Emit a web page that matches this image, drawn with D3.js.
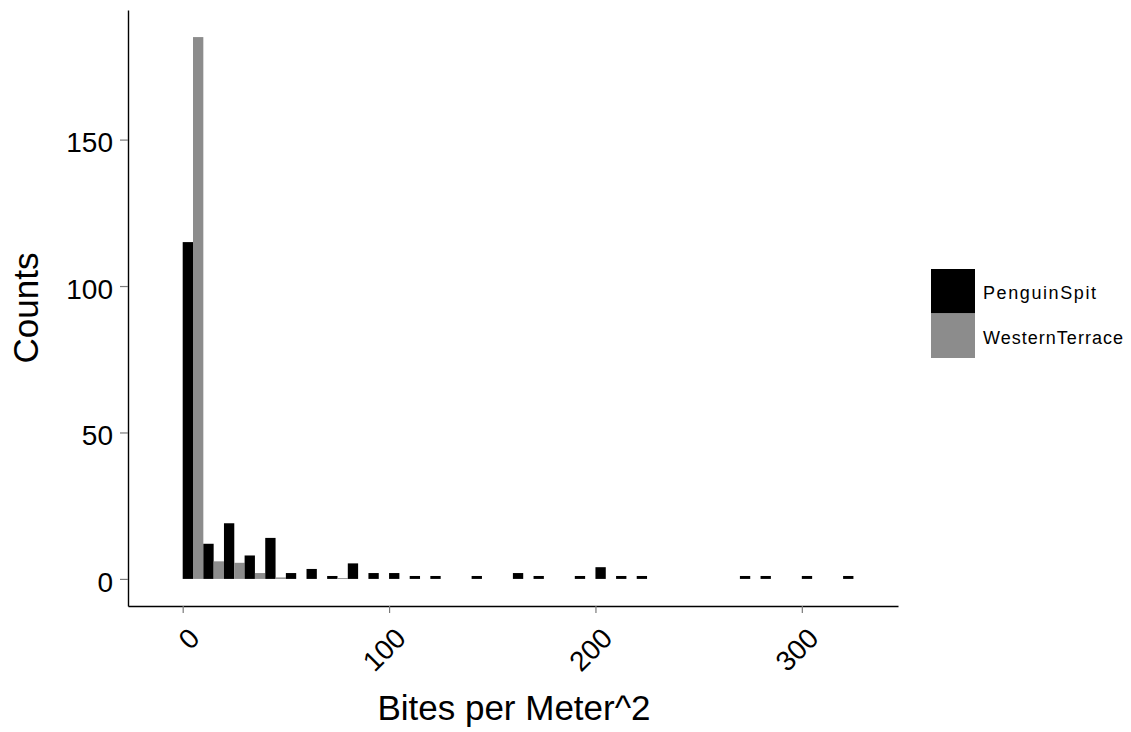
<!DOCTYPE html>
<html>
<head>
<meta charset="utf-8">
<script src="https://cdn.jsdelivr.net/npm/d3@7"></script>
<style>
body { margin: 0; background: #fff; }
text { font-family: "Liberation Sans", Arial, sans-serif; fill: #000; }
</style>
</head>
<body>
<script>
(function(){

//bin left edges (binwidth 10, each bin split in two for the dodge)
var binStarts = [0, 10, 20, 30, 40, 50, 60, 70, 80, 90, 100, 110, 120, 130, 140, 150, 160,
                 170, 180, 190, 200, 210, 220, 230, 240, 250, 260, 270, 280, 290, 300, 310, 320];
//counts
var penguinSpit = [115, 12, 19, 8, 14, 2, 3.4, 1, 5.3, 2, 2, 1, 1, 0, 1, 0, 2,
                   1, 0, 1, 4, 1, 1, 0, 0, 0, 0, 1, 1, 0, 1, 0, 1];
var westernTerrace = [185, 6, 5.5, 2, 0.5, 0, 0, 0.3, 0, 0, 0, 0, 0, 0, 0, 0, 0,
                      0, 0, 0, 0, 0, 0, 0, 0, 0, 0, 0, 0, 0, 0, 0, 0];
var seriesNames = ["PenguinSpit", "WesternTerrace"];
var seriesColors = ["#000000", "#8c8c8c"];
var xTicks = [0, 100, 200, 300];
var yTicks = [0, 50, 100, 150];

var width = 1131, height = 732;

//panel edges in pixels
var left = 128, right = 898, top = 10, bottom = 606;

var svg = d3.select("body")
    .append("svg")
    .attr("width", width)
    .attr("height", height);

svg.append("rect")
    .attr("width", width)
    .attr("height", height)
    .attr("fill", "#fff");

//scales with ggplot-style padding
var x = d3.scaleLinear()
    .domain([-26.5, 346.6])
    .range([left, right]);

var y = d3.scaleLinear()
    .domain([-9.25, 194.25])
    .range([bottom, top]);

//build one row per half-bar
var bars = [];
binStarts.forEach(function(b, i){
    bars.push({x0: b, x1: b + 5, v: penguinSpit[i], s: 0});
    bars.push({x0: b + 5, x1: b + 10, v: westernTerrace[i], s: 1});
});

svg.selectAll(".bar")
    .data(bars.filter(function(d){ return d.v > 0; }))
    .enter()
    .append("rect")
    .attr("class", "bar")
    .attr("x", function(d){ return x(d.x0); })
    .attr("width", function(d){ return x(d.x1) - x(d.x0); })
    .attr("y", function(d){ return y(d.v); })
    .attr("height", function(d){ return y(0) - y(d.v); })
    .attr("fill", function(d){ return seriesColors[d.s]; });

//y axis
var yAxis = svg.append("g")
    .attr("transform", "translate(" + left + ",0)")
    .call(d3.axisLeft(y).tickValues(yTicks).tickSize(8).tickSizeOuter(0).tickPadding(7));

//x axis
var xAxis = svg.append("g")
    .attr("transform", "translate(0," + bottom + ")")
    .call(d3.axisBottom(x).tickValues(xTicks).tickSize(7).tickSizeOuter(0));

[yAxis, xAxis].forEach(function(g){
    g.select(".domain").attr("stroke", "#000").attr("stroke-width", 1.4);
    g.selectAll(".tick line").attr("stroke", "#7a7a7a").attr("stroke-width", 1.2);
    g.selectAll(".tick text")
        .attr("fill", "#000")
        .style("font-size", "28px")
        .style("font-family", "'Liberation Sans', Arial, sans-serif");
});

yAxis.selectAll(".tick text").attr("dy", "0.44em");

//rotate x tick labels 45 degrees
xAxis.selectAll(".tick text")
    .attr("text-anchor", "end")
    .attr("x", 0)
    .attr("y", 0)
    .attr("dy", 0)
    .attr("transform", "translate(18,34) rotate(-45)");

//axis titles
svg.append("text")
    .attr("x", (left + right) / 2 + 1)
    .attr("y", 720)
    .attr("text-anchor", "middle")
    .style("font-size", "35px")
    .text("Bites per Meter^2");

svg.append("text")
    .attr("transform", "translate(38," + ((top + bottom) / 2) + ") rotate(-90)")
    .attr("text-anchor", "middle")
    .style("font-size", "35px")
    .text("Counts");

//legend
var legend = svg.append("g")
    .attr("transform", "translate(931,269)");

var legendWidths = [113, 140];

seriesNames.forEach(function(name, i){
    legend.append("rect")
        .attr("x", 0)
        .attr("y", i * 44.5)
        .attr("width", 44)
        .attr("height", 44.5)
        .attr("fill", seriesColors[i]);
    legend.append("text")
        .attr("x", 52)
        .attr("y", i * 44.5 + 30)
        .attr("textLength", legendWidths[i])
        .attr("lengthAdjust", "spacing")
        .style("font-size", "18px")
        .text(name);
});

})();
</script>
</body>
</html>
